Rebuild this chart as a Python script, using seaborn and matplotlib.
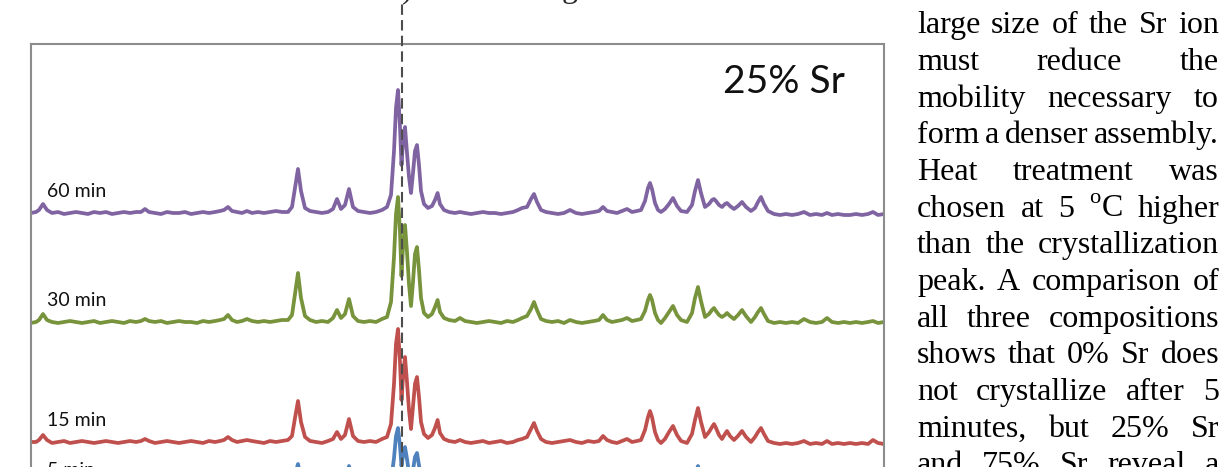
import numpy as np
import pandas as pd
import matplotlib
matplotlib.use('Agg')
import matplotlib.pyplot as plt
import seaborn as sns

# 2-theta sampling points (deg), shared by all four patterns
two_theta = [
    8.35, 8.6, 8.75, 8.95, 9.15, 9.4, 9.7, 10.0, 10.3, 10.6,
    10.9, 11.2, 11.5, 11.8, 12.1, 12.4, 12.7, 13.0, 13.3, 13.6,
    13.85, 14.05, 14.25, 14.55, 14.85, 15.15, 15.45, 15.75, 16.05, 16.35,
    16.65, 16.95, 17.25, 17.55, 17.8, 18.0, 18.2, 18.4, 18.65, 18.9,
    19.15, 19.4, 19.7, 20.0, 20.3, 20.6, 20.9, 21.2, 21.4, 21.55,
    21.7, 21.85, 22.05, 22.3, 22.6, 22.9, 23.2, 23.45, 23.65, 23.85,
    24.05, 24.25, 24.45, 24.7, 25.0, 25.3, 25.6, 25.9, 26.15, 26.35,
    26.5, 26.6, 26.7, 26.8, 26.875, 26.95, 27.05, 27.15, 27.25, 27.35,
    27.45, 27.55, 27.65, 27.75, 27.85, 28.0, 28.2, 28.4, 28.55, 28.68,
    28.8, 29.0, 29.25, 29.55, 29.8, 30.05, 30.35, 30.65, 30.95, 31.25,
    31.55, 31.85, 32.15, 32.45, 32.7, 32.9, 33.15, 33.35, 33.5, 33.65,
    33.85, 34.1, 34.4, 34.7, 35.0, 35.3, 35.6, 35.9, 36.2, 36.5,
    36.75, 36.95, 37.15, 37.4, 37.65, 37.9, 38.15, 38.4, 38.65, 38.85,
    39.05, 39.2, 39.3, 39.4, 39.55, 39.7, 39.85, 40.05, 40.25, 40.45,
    40.65, 40.85, 41.15, 41.4, 41.55, 41.7, 41.85, 42.05, 42.25, 42.4,
    42.5, 42.6, 42.75, 42.9, 43.05, 43.15, 43.3, 43.5, 43.7, 43.9,
    44.1, 44.35, 44.55, 44.7, 44.85, 45.0, 45.2, 45.5, 45.8, 46.1,
    46.4, 46.7, 47.0, 47.3, 47.6, 47.9, 48.15, 48.4, 48.7, 49.0,
    49.3, 49.6, 49.9, 50.2, 50.45, 50.7, 51.0,
]

# intensities (a.u.), before stacking
int_60 = [
    0, 1, 3, 9, 3, 0, 1, -1, 0, 1,
    0, -1, 1, 0, 1, -1, 0, 1, 0, 1,
    1, 4, 1, 0, -1, 1, 0, 0, 1, -1,
    0, 1, 0, 1, 2, 3, 6, 2, 1, 0,
    2, 0, 1, 0, 1, 2, 1, 1, 6, 25,
    44, 22, 5, 2, 1, 0, 1, 4, 14, 4,
    8, 24, 6, 2, 1, 0, 1, 3, 6, 18,
    62, 105, 123, 86, 48, 70, 86, 60, 36, 20,
    40, 62, 68, 48, 22, 9, 5, 7, 13, 20,
    9, 3, 1, 0, 1, 0, -1, 0, 1, 0,
    0, -1, 0, 1, 3, 5, 6, 14, 19, 11,
    3, 1, 0, -1, 0, 3, 0, -1, 0, 1,
    2, 6, 2, 1, 0, 2, 4, 1, 2, 3,
    12, 25, 30, 24, 10, 3, 1, 4, 9, 15,
    7, 2, 1, 8, 22, 33, 20, 6, 9, 13,
    14, 12, 8, 6, 9, 10, 7, 4, 7, 11,
    6, 2, 5, 11, 16, 9, 2, -1, -2, -1,
    -2, -1, 1, -2, -1, -2, 0, -2, -1, -2,
    -2, -1, -2, -1, 1, -2, -1,
]
int_30 = [
    -1, 0, 2, 8, 2, 0, -1, 0, 1, 0,
    -1, 0, 1, -1, 0, 1, 0, -1, 1, 0,
    1, 3, 1, 0, 1, -1, 0, 1, 0, 0,
    -1, 1, 0, 1, 2, 3, 7, 2, 0, 1,
    3, 1, 0, 1, 0, 1, 2, 2, 7, 28,
    49, 24, 6, 2, 0, 1, 0, 4, 12, 4,
    8, 23, 6, 1, 0, 1, 0, 3, 5, 20,
    65, 108, 125, 90, 46, 75, 97, 70, 38, 16,
    40, 68, 75, 52, 24, 9, 5, 8, 15, 22,
    10, 4, 2, 1, 4, 1, 0, -1, 0, 1,
    0, -1, 1, 0, 2, 4, 6, 13, 20, 12,
    3, 1, 0, 1, -1, 2, 0, -1, 0, 1,
    2, 7, 2, 0, 1, 2, 4, 1, 2, 3,
    11, 22, 27, 22, 9, 2, -1, 4, 10, 16,
    7, 2, 0, 9, 24, 35, 21, 5, 8, 12,
    14, 11, 7, 5, 7, 9, 6, 3, 7, 12,
    6, 0, 5, 10, 14, 8, 1, -1, 0, -1,
    0, -1, 3, 0, -1, 0, 4, 0, -1, 0,
    -1, 0, -1, 0, 1, -1, 0,
]
int_15 = [
    0, 0, 2, 7, 2, -1, 0, 1, -1, 0,
    1, 0, -1, 0, 1, 0, -1, 0, 1, 0,
    1, 3, 1, -1, 0, 1, 0, -1, 0, 1,
    0, -1, 1, 0, 1, 2, 5, 2, 0, 1,
    2, 1, 0, -1, 1, 0, 1, 2, 6, 24,
    41, 20, 5, 1, 0, -1, 1, 3, 10, 3,
    7, 23, 6, 1, 0, 1, 0, 3, 5, 18,
    58, 98, 113, 80, 42, 65, 85, 60, 32, 13,
    35, 58, 65, 45, 20, 8, 4, 7, 14, 22,
    9, 3, 1, 0, 2, 0, -1, 0, 1, -1,
    0, 1, -1, 0, 2, 3, 5, 13, 19, 11,
    3, 0, -1, 0, 1, 2, 0, -1, 1, 0,
    1, 6, 2, 0, -1, 1, 3, 0, 1, 2,
    12, 25, 31, 25, 10, 2, -1, 3, 10, 16,
    7, 1, -1, 8, 22, 34, 20, 5, 10, 15,
    18, 14, 7, 3, 8, 11, 6, 2, 6, 11,
    5, 0, 5, 10, 14, 8, 1, -1, -2, -1,
    -2, -1, 1, -2, -1, -2, 1, -2, -1, -2,
    -1, -2, -1, -2, 2, -1, -2,
]
int_5 = [
    0, 0, 2, 5, 1, 0, -1, 0, 1, 0,
    0, 1, 0, -1, 0, 1, 0, 0, -1, 1,
    0, 2, 1, 0, -1, 0, 1, 0, 0, -1,
    1, 0, 0, 1, 1, 2, 4, 1, 0, 1,
    1, 0, 1, 0, -1, 1, 0, 1, 5, 17,
    28, 14, 3, 1, 0, 1, 0, 2, 7, 2,
    8, 26, 7, 1, 0, 1, 0, 2, 3, 10,
    34, 56, 64, 46, 26, 36, 45, 33, 19, 9,
    22, 35, 39, 27, 12, 5, 3, 4, 8, 12,
    6, 2, 1, 0, 1, 0, 1, -1, 0, 1,
    0, -1, 0, 1, 2, 2, 4, 8, 12, 7,
    2, 0, 1, 0, -1, 1, 0, 1, 0, -1,
    1, 4, 1, 0, 1, 1, 2, 0, 1, 2,
    7, 15, 20, 15, 6, 1, 0, 2, 6, 9,
    4, 1, 0, 7, 18, 26, 15, 4, 6, 8,
    9, 7, 4, 2, 5, 6, 4, 1, 4, 6,
    3, 0, 3, 6, 8, 5, 1, 0, -1, 0,
    -1, 0, 1, -1, 0, -1, 1, 0, -1, 0,
    0, -1, 0, -1, 1, 0, -1,
]

sample_times = ['60 min', '30 min', '15 min', '5 min']
patterns = [int_60, int_30, int_15, int_5]
stack_offsets = [387, 278, 158, 108]
colors = ['#8064A2', '#77933C', '#C0504D', '#4F81BD']
ref_peak = 26.875  # dashed reference line

para_lines = [
    "large size of the Sr ion",
    "must reduce the",
    "mobility necessary to",
    "form a denser assembly.",
    "Heat treatment was",
    r"chosen at 5 $^{\mathrm{o}}$C higher",
    "than the crystallization",
    "peak. A comparison of",
    "all three compositions",
    "shows that 0% Sr does",
    "not crystallize after 5",
    "minutes, but 25% Sr",
    "and 75% Sr reveal a",
]

frames = []
for t, ys, off in zip(sample_times, patterns, stack_offsets):
    frames.append(pd.DataFrame({'two_theta': two_theta,
                                'intensity': np.array(ys) + off,
                                'time': t}))
df = pd.concat(frames, ignore_index=True)

sns.set_style('white')
plt.rcParams['font.family'] = ['Lato', 'DejaVu Sans']
plt.rcParams['mathtext.fontset'] = 'custom'
plt.rcParams['mathtext.rm'] = 'Liberation Serif'

W, H = 1229, 467
fig = plt.figure(figsize=(W / 100, H / 100), dpi=100)
ax = fig.add_axes([31 / W, 1 - 600 / H, 853 / W, 556 / H])

sns.lineplot(data=df, x='two_theta', y='intensity', hue='time',
             palette=dict(zip(sample_times, colors)), estimator=None,
             sort=False, legend=False, linewidth=2.7, ax=ax)

ax.axvline(ref_peak, ymin=0, ymax=600 / 556, color='#4d4d4d', lw=1.5,
           dashes=(5, 2.5), clip_on=False, zorder=5)

for t, off in zip(sample_times, stack_offsets):
    ax.text(9.17, off + 21.5, t, fontsize=14, color='#111111',
            ha='left', va='center')
ax.text(49.05, 507, '25% Sr', fontsize=28, color='#111111',
        ha='right', va='baseline')

ax.set_xlim(8.35, 51.0)
ax.set_ylim(0, 556)
ax.set_xticks([])
ax.set_yticks([])
ax.set_xlabel('')
ax.set_ylabel('')
for s in ax.spines.values():
    s.set_color('#8c8c8c')
    s.set_linewidth(1.5)

# body text of the page, justified between two edges
serif = 'Liberation Serif'
fig.canvas.draw()
renderer = fig.canvas.get_renderer()
x_left, x_right = 917, 1219
for k, line in enumerate(para_lines):
    words = line.split(' ')
    y = 1 - (33.3 + 36.67 * k) / H
    texts = [fig.text(0, y, w, fontsize=23, family=serif, color='black',
                      va='baseline') for w in words]
    widths = [t.get_window_extent(renderer).width for t in texts]
    gap = max((x_right - x_left - sum(widths)) / (len(words) - 1), 5.5)
    x = x_left
    for t, w in zip(texts, widths):
        t.set_x(x / W)
        x += w + gap

# bits of the previous text line, cut by the top edge
fig.text(402 / W, 1 + 3 / H, ')', fontsize=23, family=serif, va='baseline')
fig.text(562 / W, 1 + 3 / H, 'g', fontsize=23, family=serif, va='baseline')

plt.savefig('out.png', dpi=100)
